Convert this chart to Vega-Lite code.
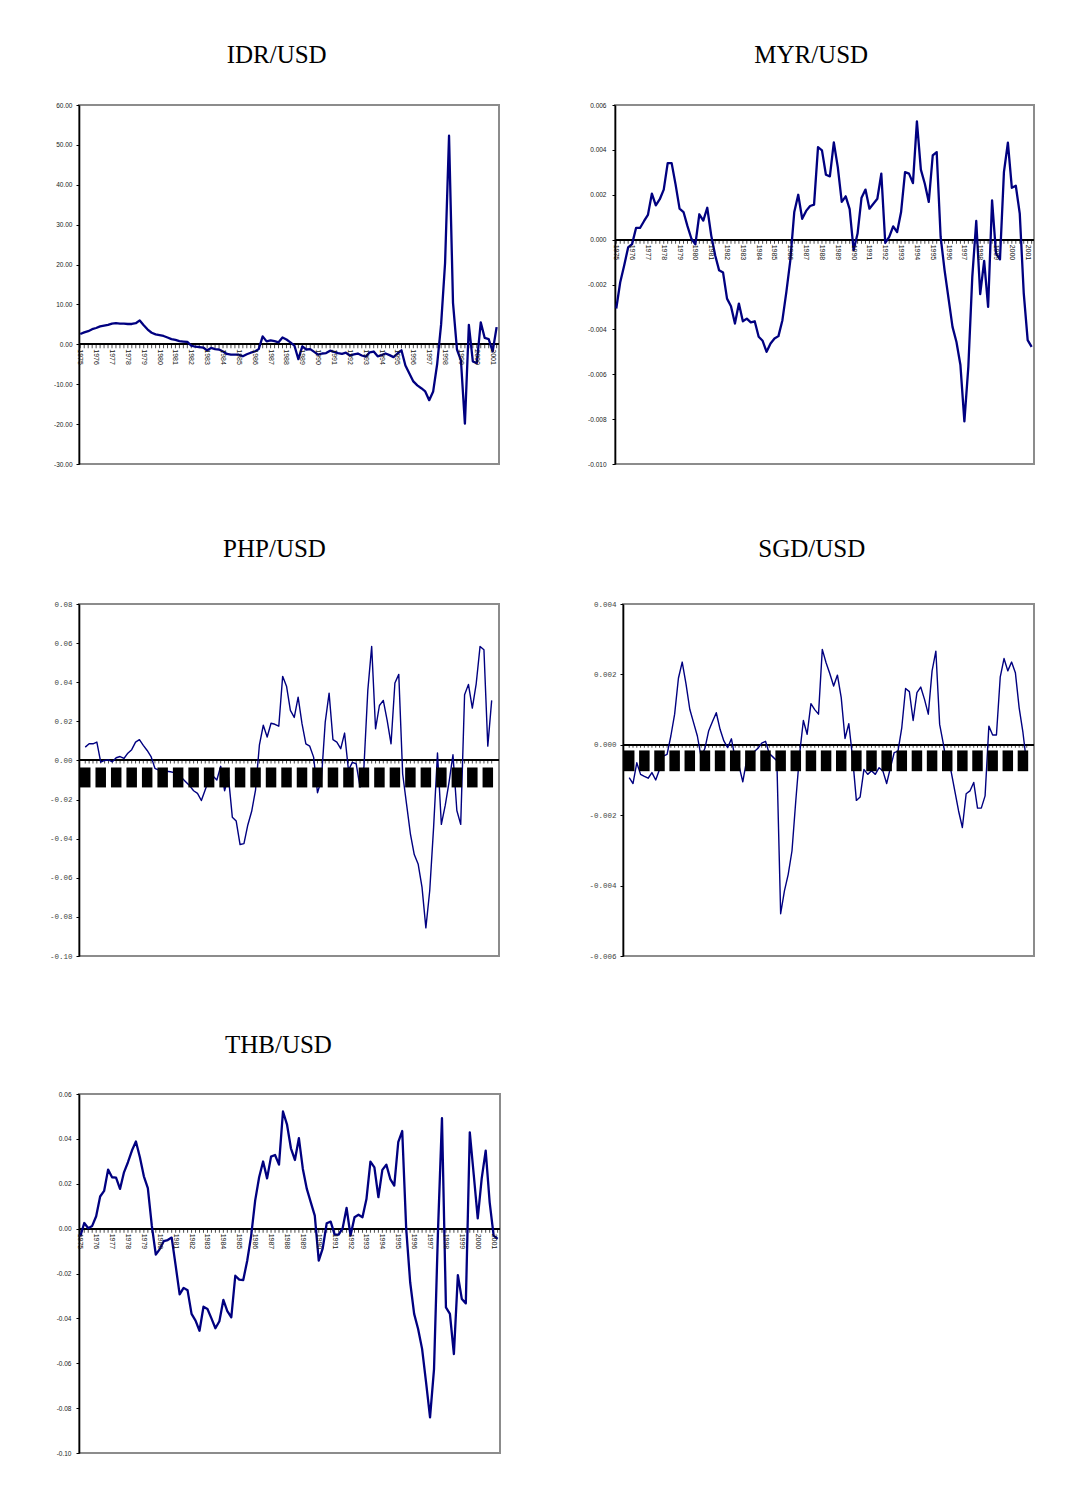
{
"$schema": "https://vega.github.io/schema/vega-lite/v6.json",
"padding": {"left": 48, "top": 42, "right": 0, "bottom": 0},
"background": "white",
"config": {
 "view": {"stroke": "#8c8c8c", "strokeWidth": 2},
 "axis": {"domainColor": "#000", "domainWidth": 1.6, "tickColor": "#000", "tickSize": 3, "tickWidth": 1, "tickCount": 20, "grid": false, "labelFont": "Liberation Sans", "labelFontSize": 6.5, "labelColor": "#222", "labelPadding": 4, "labelOverlap": false, "labelBound": false, "labelFlush": false, "title": null},
 "title": {"font": "Liberation Serif", "fontSize": 25, "fontWeight": "normal", "color": "#000", "offset": 34, "anchor": "middle", "frame": "bounds"},
 "locale": {"number": {"decimal": ".", "thousands": ",", "grouping": [3], "currency": ["$", ""], "minus": "-"}}
},
"datasets": {
 "years": [{"yr":1975},{"yr":1976},{"yr":1977},{"yr":1978},{"yr":1979},{"yr":1980},{"yr":1981},{"yr":1982},{"yr":1983},{"yr":1984},{"yr":1985},{"yr":1986},{"yr":1987},{"yr":1988},{"yr":1989},{"yr":1990},{"yr":1991},{"yr":1992},{"yr":1993},{"yr":1994},{"yr":1995},{"yr":1996},{"yr":1997},{"yr":1998},{"yr":1999},{"yr":2000},{"yr":2001}],
 "idr": [
 {"t":1975,"v":2.6},{"t":1975.25,"v":3.0},{"t":1975.5,"v":3.3},{"t":1975.75,"v":3.8},
 {"t":1976,"v":4.1},{"t":1976.25,"v":4.5},{"t":1976.5,"v":4.7},{"t":1976.75,"v":4.9},
 {"t":1977,"v":5.2},{"t":1977.25,"v":5.3},{"t":1977.5,"v":5.2},{"t":1977.75,"v":5.2},
 {"t":1978,"v":5.1},{"t":1978.25,"v":5.1},{"t":1978.5,"v":5.3},{"t":1978.75,"v":6.0},
 {"t":1979,"v":4.8},{"t":1979.25,"v":3.7},{"t":1979.5,"v":2.9},{"t":1979.75,"v":2.5},
 {"t":1980,"v":2.3},{"t":1980.25,"v":2.1},{"t":1980.5,"v":1.7},{"t":1980.75,"v":1.3},
 {"t":1981,"v":1.1},{"t":1981.25,"v":0.8},{"t":1981.5,"v":0.7},{"t":1981.75,"v":0.6},
 {"t":1982,"v":-0.3},{"t":1982.25,"v":-0.6},{"t":1982.5,"v":-0.7},{"t":1982.75,"v":-0.8},
 {"t":1983,"v":-1.5},{"t":1983.25,"v":-0.9},{"t":1983.5,"v":-1.2},{"t":1983.75,"v":-1.3},
 {"t":1984,"v":-1.8},{"t":1984.25,"v":-2.4},{"t":1984.5,"v":-2.6},{"t":1984.75,"v":-2.6},
 {"t":1985,"v":-2.6},{"t":1985.25,"v":-3.0},{"t":1985.5,"v":-2.5},{"t":1985.75,"v":-2.1},
 {"t":1986,"v":-1.8},{"t":1986.25,"v":-1.2},{"t":1986.5,"v":2.0},{"t":1986.75,"v":0.75},
 {"t":1987,"v":1.0},{"t":1987.25,"v":0.8},{"t":1987.5,"v":0.5},{"t":1987.75,"v":1.7},
 {"t":1988,"v":1.2},{"t":1988.25,"v":0.5},{"t":1988.5,"v":-0.3},{"t":1988.75,"v":-3.7},
 {"t":1989,"v":-0.5},{"t":1989.25,"v":-1.3},{"t":1989.5,"v":-1.2},{"t":1989.75,"v":-1.9},
 {"t":1990,"v":-2.6},{"t":1990.25,"v":-2.3},{"t":1990.5,"v":-2.2},{"t":1990.75,"v":-1.6},
 {"t":1991,"v":-1.9},{"t":1991.25,"v":-2.2},{"t":1991.5,"v":-2.4},{"t":1991.75,"v":-2.1},
 {"t":1992,"v":-2.8},{"t":1992.25,"v":-2.5},{"t":1992.5,"v":-2.3},{"t":1992.75,"v":-2.8},
 {"t":1993,"v":-3.1},{"t":1993.25,"v":-2.0},{"t":1993.5,"v":-1.8},{"t":1993.75,"v":-3.0},
 {"t":1994,"v":-2.7},{"t":1994.25,"v":-2.3},{"t":1994.5,"v":-2.7},{"t":1994.75,"v":-3.2},
 {"t":1995,"v":-2.3},{"t":1995.25,"v":-1.5},{"t":1995.5,"v":-5.3},{"t":1995.75,"v":-7.3},
 {"t":1996,"v":-9.3},{"t":1996.25,"v":-10.3},{"t":1996.5,"v":-11.0},{"t":1996.75,"v":-11.8},
 {"t":1997,"v":-14.0},{"t":1997.25,"v":-11.8},{"t":1997.5,"v":-5.0},{"t":1997.75,"v":5.0},
 {"t":1998,"v":20.4},{"t":1998.25,"v":52.3},{"t":1998.5,"v":10.4},{"t":1998.75,"v":-1.3},
 {"t":1999,"v":-4.0},{"t":1999.25,"v":-19.9},{"t":1999.5,"v":4.9},{"t":1999.75,"v":-4.3},
 {"t":2000,"v":-4.7},{"t":2000.25,"v":5.5},{"t":2000.5,"v":1.6},{"t":2000.75,"v":1.3},
 {"t":2001,"v":-1.8},{"t":2001.25,"v":4.3}],
 "myr": [
 {"t":1975,"v":-0.00307},{"t":1975.25,"v":-0.0019},{"t":1975.5,"v":-0.00115},{"t":1975.75,"v":-0.00035},
 {"t":1976,"v":-0.0002},{"t":1976.25,"v":0.00052},{"t":1976.5,"v":0.00052},{"t":1976.75,"v":0.00082},
 {"t":1977,"v":0.0011},{"t":1977.25,"v":0.00205},{"t":1977.5,"v":0.00153},{"t":1977.75,"v":0.0018},
 {"t":1978,"v":0.00223},{"t":1978.25,"v":0.00341},{"t":1978.5,"v":0.00341},{"t":1978.75,"v":0.00245},
 {"t":1979,"v":0.00138},{"t":1979.25,"v":0.00123},{"t":1979.5,"v":0.0006},{"t":1979.75,"v":0.00004},
 {"t":1980,"v":-0.00021},{"t":1980.25,"v":0.00113},{"t":1980.5,"v":0.00085},{"t":1980.75,"v":0.00142},
 {"t":1981,"v":0.00019},{"t":1981.25,"v":-0.0007},{"t":1981.5,"v":-0.00137},{"t":1981.75,"v":-0.00147},
 {"t":1982,"v":-0.00263},{"t":1982.25,"v":-0.00297},{"t":1982.5,"v":-0.00374},{"t":1982.75,"v":-0.00285},
 {"t":1983,"v":-0.00364},{"t":1983.25,"v":-0.00352},{"t":1983.5,"v":-0.00369},{"t":1983.75,"v":-0.00364},
 {"t":1984,"v":-0.00433},{"t":1984.25,"v":-0.00451},{"t":1984.5,"v":-0.005},{"t":1984.75,"v":-0.00463},
 {"t":1985,"v":-0.00441},{"t":1985.25,"v":-0.0043},{"t":1985.5,"v":-0.00359},{"t":1985.75,"v":-0.00233},
 {"t":1986,"v":-0.00092},{"t":1986.25,"v":0.00123},{"t":1986.5,"v":0.002},{"t":1986.75,"v":0.00093},
 {"t":1987,"v":0.00128},{"t":1987.25,"v":0.0015},{"t":1987.5,"v":0.00156},{"t":1987.75,"v":0.00412},
 {"t":1988,"v":0.00398},{"t":1988.25,"v":0.00289},{"t":1988.5,"v":0.00282},{"t":1988.75,"v":0.00433},
 {"t":1989,"v":0.00323},{"t":1989.25,"v":0.00168},{"t":1989.5,"v":0.00193},{"t":1989.75,"v":0.00136},
 {"t":1990,"v":-0.00047},{"t":1990.25,"v":0.00027},{"t":1990.5,"v":0.00187},{"t":1990.75,"v":0.00223},
 {"t":1991,"v":0.00138},{"t":1991.25,"v":0.0016},{"t":1991.5,"v":0.00182},{"t":1991.75,"v":0.00294},
 {"t":1992,"v":-0.00015},{"t":1992.25,"v":0.00012},{"t":1992.5,"v":0.00059},{"t":1992.75,"v":0.00034},
 {"t":1993,"v":0.00123},{"t":1993.25,"v":0.00301},{"t":1993.5,"v":0.00294},{"t":1993.75,"v":0.00252},
 {"t":1994,"v":0.00527},{"t":1994.25,"v":0.00312},{"t":1994.5,"v":0.00249},{"t":1994.75,"v":0.00168},
 {"t":1995,"v":0.00375},{"t":1995.25,"v":0.0039},{"t":1995.5,"v":0.00012},{"t":1995.75,"v":-0.00137},
 {"t":1996,"v":-0.00263},{"t":1996.25,"v":-0.00389},{"t":1996.5,"v":-0.00456},{"t":1996.75,"v":-0.00559},
 {"t":1997,"v":-0.0081},{"t":1997.25,"v":-0.00567},{"t":1997.5,"v":-0.00166},{"t":1997.75,"v":0.00083},
 {"t":1998,"v":-0.00243},{"t":1998.25,"v":-0.00095},{"t":1998.5,"v":-0.003},{"t":1998.75,"v":0.00175},
 {"t":1999,"v":-0.00062},{"t":1999.25,"v":-0.00088},{"t":1999.5,"v":0.00301},{"t":1999.75,"v":0.00432},
 {"t":2000,"v":0.00231},{"t":2000.25,"v":0.0024},{"t":2000.5,"v":0.00116},{"t":2000.75,"v":-0.00237},
 {"t":2001,"v":-0.00448},{"t":2001.25,"v":-0.00478}],
 "php": [
 {"t":1975,"v":0.0068},{"t":1975.25,"v":0.0085},{"t":1975.5,"v":0.0085},{"t":1975.75,"v":0.0094},
 {"t":1976,"v":-0.0009},{"t":1976.25,"v":0.0},{"t":1976.5,"v":0.0003},{"t":1976.75,"v":-0.0007},
 {"t":1977,"v":0.0014},{"t":1977.25,"v":0.002},{"t":1977.5,"v":0.001},{"t":1977.75,"v":0.0037},
 {"t":1978,"v":0.0055},{"t":1978.25,"v":0.0094},{"t":1978.5,"v":0.0106},{"t":1978.75,"v":0.0077},
 {"t":1979,"v":0.0051},{"t":1979.25,"v":0.002},{"t":1979.5,"v":-0.004},{"t":1979.75,"v":-0.005},
 {"t":1980,"v":-0.0055},{"t":1980.25,"v":-0.0055},{"t":1980.5,"v":-0.0058},{"t":1980.75,"v":-0.0062},
 {"t":1981,"v":-0.0066},{"t":1981.25,"v":-0.009},{"t":1981.5,"v":-0.011},{"t":1981.75,"v":-0.013},
 {"t":1982,"v":-0.0155},{"t":1982.25,"v":-0.0168},{"t":1982.5,"v":-0.0205},{"t":1982.75,"v":-0.015},
 {"t":1983,"v":-0.0095},{"t":1983.25,"v":-0.008},{"t":1983.5,"v":-0.01},{"t":1983.75,"v":-0.003},
 {"t":1984,"v":-0.0155},{"t":1984.25,"v":-0.0085},{"t":1984.5,"v":-0.029},{"t":1984.75,"v":-0.031},
 {"t":1985,"v":-0.043},{"t":1985.25,"v":-0.0425},{"t":1985.5,"v":-0.033},{"t":1985.75,"v":-0.026},
 {"t":1986,"v":-0.015},{"t":1986.25,"v":0.008},{"t":1986.5,"v":0.018},{"t":1986.75,"v":0.012},
 {"t":1987,"v":0.019},{"t":1987.25,"v":0.0185},{"t":1987.5,"v":0.0175},{"t":1987.75,"v":0.043},
 {"t":1988,"v":0.038},{"t":1988.25,"v":0.0256},{"t":1988.5,"v":0.022},{"t":1988.75,"v":0.0324},
 {"t":1989,"v":0.0188},{"t":1989.25,"v":0.0085},{"t":1989.5,"v":0.0073},{"t":1989.75,"v":0.0017},
 {"t":1990,"v":-0.0165},{"t":1990.25,"v":-0.01},{"t":1990.5,"v":0.0196},{"t":1990.75,"v":0.0344},
 {"t":1991,"v":0.0106},{"t":1991.25,"v":0.0094},{"t":1991.5,"v":0.006},{"t":1991.75,"v":0.014},
 {"t":1992,"v":-0.005},{"t":1992.25,"v":-0.001},{"t":1992.5,"v":-0.0017},{"t":1992.75,"v":-0.0136},
 {"t":1993,"v":-0.0034},{"t":1993.25,"v":0.0358},{"t":1993.5,"v":0.0583},{"t":1993.75,"v":0.0162},
 {"t":1994,"v":0.0281},{"t":1994.25,"v":0.0307},{"t":1994.5,"v":0.0205},{"t":1994.75,"v":0.0085},
 {"t":1995,"v":0.0396},{"t":1995.25,"v":0.044},{"t":1995.5,"v":-0.0068},{"t":1995.75,"v":-0.0222},
 {"t":1996,"v":-0.0375},{"t":1996.25,"v":-0.0481},{"t":1996.5,"v":-0.0529},{"t":1996.75,"v":-0.0648},
 {"t":1997,"v":-0.0856},{"t":1997.25,"v":-0.0665},{"t":1997.5,"v":-0.0341},{"t":1997.75,"v":0.0038},
 {"t":1998,"v":-0.0327},{"t":1998.25,"v":-0.023},{"t":1998.5,"v":-0.011},{"t":1998.75,"v":0.0029},
 {"t":1999,"v":-0.0256},{"t":1999.25,"v":-0.0327},{"t":1999.5,"v":0.0336},{"t":1999.75,"v":0.0389},
 {"t":2000,"v":0.0268},{"t":2000.25,"v":0.0392},{"t":2000.5,"v":0.0583},{"t":2000.75,"v":0.0566},
 {"t":2001,"v":0.0073},{"t":2001.25,"v":0.0307}],
 "sgd": [
 {"t":1975,"v":-0.00093},{"t":1975.25,"v":-0.0011},{"t":1975.5,"v":-0.00051},{"t":1975.75,"v":-0.00084},
 {"t":1976,"v":-0.0009},{"t":1976.25,"v":-0.00095},{"t":1976.5,"v":-0.00079},{"t":1976.75,"v":-0.001},
 {"t":1977,"v":-0.0007},{"t":1977.25,"v":-0.00032},{"t":1977.5,"v":-0.00027},{"t":1977.75,"v":0.00025},
 {"t":1978,"v":0.00087},{"t":1978.25,"v":0.00189},{"t":1978.5,"v":0.00235},{"t":1978.75,"v":0.00173},
 {"t":1979,"v":0.00101},{"t":1979.25,"v":0.00063},{"t":1979.5,"v":0.00025},{"t":1979.75,"v":-0.00035},
 {"t":1980,"v":-0.0001},{"t":1980.25,"v":0.0004},{"t":1980.5,"v":0.00066},{"t":1980.75,"v":0.00091},
 {"t":1981,"v":0.00044},{"t":1981.25,"v":0.00011},{"t":1981.5,"v":-0.00008},{"t":1981.75,"v":0.00017},
 {"t":1982,"v":-0.0004},{"t":1982.25,"v":-0.0006},{"t":1982.5,"v":-0.00105},{"t":1982.75,"v":-0.00045},
 {"t":1983,"v":-0.00042},{"t":1983.25,"v":-0.0002},{"t":1983.5,"v":-0.0001},{"t":1983.75,"v":0.00005},
 {"t":1984,"v":0.0001},{"t":1984.25,"v":-0.00025},{"t":1984.5,"v":-0.00035},{"t":1984.75,"v":-0.00045},
 {"t":1985,"v":-0.0048},{"t":1985.25,"v":-0.00415},{"t":1985.5,"v":-0.00368},{"t":1985.75,"v":-0.00301},
 {"t":1986,"v":-0.00159},{"t":1986.25,"v":-0.00027},{"t":1986.5,"v":0.00069},{"t":1986.75,"v":0.0003},
 {"t":1987,"v":0.00117},{"t":1987.25,"v":0.001},{"t":1987.5,"v":0.00087},{"t":1987.75,"v":0.00271},
 {"t":1988,"v":0.00233},{"t":1988.25,"v":0.00202},{"t":1988.5,"v":0.00167},{"t":1988.75,"v":0.00198},
 {"t":1989,"v":0.00134},{"t":1989.25,"v":0.00018},{"t":1989.5,"v":0.0006},{"t":1989.75,"v":-0.00036},
 {"t":1990,"v":-0.00158},{"t":1990.25,"v":-0.00148},{"t":1990.5,"v":-0.0007},{"t":1990.75,"v":-0.00084},
 {"t":1991,"v":-0.00074},{"t":1991.25,"v":-0.00084},{"t":1991.5,"v":-0.00065},{"t":1991.75,"v":-0.00074},
 {"t":1992,"v":-0.0011},{"t":1992.25,"v":-0.00065},{"t":1992.5,"v":-0.00022},{"t":1992.75,"v":-0.00018},
 {"t":1993,"v":0.00049},{"t":1993.25,"v":0.0016},{"t":1993.5,"v":0.00151},{"t":1993.75,"v":0.00069},
 {"t":1994,"v":0.00148},{"t":1994.25,"v":0.00164},{"t":1994.5,"v":0.00129},{"t":1994.75,"v":0.00087},
 {"t":1995,"v":0.0021},{"t":1995.25,"v":0.00266},{"t":1995.5,"v":0.00058},{"t":1995.75,"v":0.00001},
 {"t":1996,"v":-0.00065},{"t":1996.25,"v":-0.00074},{"t":1996.5,"v":-0.00131},{"t":1996.75,"v":-0.00188},
 {"t":1997,"v":-0.00235},{"t":1997.25,"v":-0.00139},{"t":1997.5,"v":-0.00131},{"t":1997.75,"v":-0.00107},
 {"t":1998,"v":-0.0018},{"t":1998.25,"v":-0.0018},{"t":1998.5,"v":-0.00145},{"t":1998.75,"v":0.00053},
 {"t":1999,"v":0.00028},{"t":1999.25,"v":0.00028},{"t":1999.5,"v":0.00192},{"t":1999.75,"v":0.00245},
 {"t":2000,"v":0.0021},{"t":2000.25,"v":0.00235},{"t":2000.5,"v":0.00205},{"t":2000.75,"v":0.00105},
 {"t":2001,"v":0.00035},{"t":2001.25,"v":-0.00055}],
 "thb": [
 {"t":1975,"v":-0.0035},{"t":1975.25,"v":0.0025},{"t":1975.5,"v":0.0002},{"t":1975.75,"v":0.0012},
 {"t":1976,"v":0.0055},{"t":1976.25,"v":0.0143},{"t":1976.5,"v":0.0168},{"t":1976.75,"v":0.0263},
 {"t":1977,"v":0.0229},{"t":1977.25,"v":0.0227},{"t":1977.5,"v":0.0177},{"t":1977.75,"v":0.0251},
 {"t":1978,"v":0.0296},{"t":1978.25,"v":0.0348},{"t":1978.5,"v":0.0388},{"t":1978.75,"v":0.0318},
 {"t":1979,"v":0.0233},{"t":1979.25,"v":0.018},{"t":1979.5,"v":0.0013},{"t":1979.75,"v":-0.0116},
 {"t":1980,"v":-0.0091},{"t":1980.25,"v":-0.0056},{"t":1980.5,"v":-0.0051},{"t":1980.75,"v":-0.004},
 {"t":1981,"v":-0.0165},{"t":1981.25,"v":-0.0293},{"t":1981.5,"v":-0.0264},{"t":1981.75,"v":-0.0275},
 {"t":1982,"v":-0.038},{"t":1982.25,"v":-0.041},{"t":1982.5,"v":-0.0455},{"t":1982.75,"v":-0.0348},
 {"t":1983,"v":-0.0358},{"t":1983.25,"v":-0.04},{"t":1983.5,"v":-0.0444},{"t":1983.75,"v":-0.0413},
 {"t":1984,"v":-0.0318},{"t":1984.25,"v":-0.0368},{"t":1984.5,"v":-0.0395},{"t":1984.75,"v":-0.021},
 {"t":1985,"v":-0.0227},{"t":1985.25,"v":-0.0229},{"t":1985.5,"v":-0.0143},{"t":1985.75,"v":-0.0031},
 {"t":1986,"v":0.0125},{"t":1986.25,"v":0.0229},{"t":1986.5,"v":0.0299},{"t":1986.75,"v":0.0224},
 {"t":1987,"v":0.0321},{"t":1987.25,"v":0.0328},{"t":1987.5,"v":0.0285},{"t":1987.75,"v":0.0522},
 {"t":1988,"v":0.0465},{"t":1988.25,"v":0.0358},{"t":1988.5,"v":0.0306},{"t":1988.75,"v":0.0403},
 {"t":1989,"v":0.0266},{"t":1989.25,"v":0.0177},{"t":1989.5,"v":0.0117},{"t":1989.75,"v":0.0058},
 {"t":1990,"v":-0.0143},{"t":1990.25,"v":-0.0088},{"t":1990.5,"v":0.0024},{"t":1990.75,"v":0.0031},
 {"t":1991,"v":-0.0027},{"t":1991.25,"v":-0.0027},{"t":1991.5,"v":0.0001},{"t":1991.75,"v":0.0092},
 {"t":1992,"v":-0.0031},{"t":1992.25,"v":0.0051},{"t":1992.5,"v":0.0062},{"t":1992.75,"v":0.0051},
 {"t":1993,"v":0.0132},{"t":1993.25,"v":0.0299},{"t":1993.5,"v":0.0273},{"t":1993.75,"v":0.014},
 {"t":1994,"v":0.0262},{"t":1994.25,"v":0.0285},{"t":1994.5,"v":0.0221},{"t":1994.75,"v":0.0192},
 {"t":1995,"v":0.0385},{"t":1995.25,"v":0.0435},{"t":1995.5,"v":0.0},{"t":1995.75,"v":-0.0239},
 {"t":1996,"v":-0.038},{"t":1996.25,"v":-0.0447},{"t":1996.5,"v":-0.0536},{"t":1996.75,"v":-0.0685},
 {"t":1997,"v":-0.0841},{"t":1997.25,"v":-0.0626},{"t":1997.5,"v":-0.001},{"t":1997.75,"v":0.0492},
 {"t":1998,"v":-0.0351},{"t":1998.25,"v":-0.038},{"t":1998.5,"v":-0.0559},{"t":1998.75,"v":-0.0207},
 {"t":1999,"v":-0.0314},{"t":1999.25,"v":-0.0333},{"t":1999.5,"v":0.0429},{"t":1999.75,"v":0.0239},
 {"t":2000,"v":0.0046},{"t":2000.25,"v":0.0224},{"t":2000.5,"v":0.0348},{"t":2000.75,"v":0.0117},
 {"t":2001,"v":-0.0031},{"t":2001.25,"v":-0.0046}]
},
"columns": 1,
"spacing": 71,
"concat": [
 {"columns": 1, "spacing": 67, "concat": [
 {"spacing": 85, "hconcat": [
  {"title": {"text": "IDR/USD", "offset": 34, "frame": "bounds"}, "width": 420, "height": 359, "layer": [
   {"data": {"name": "idr"}, "mark": {"type": "rule", "color": "#000", "strokeWidth": 1.4}, "encoding": {"y": {"datum": 0}}},
   {"data": {"name": "idr"}, "mark": {"type": "tick", "orient": "vertical", "size": 4, "thickness": 1, "color": "#000", "yOffset": 2}, "encoding": {"x": {"field": "t", "type": "quantitative", "scale": {"domain": [1974.92, 2001.4], "nice": false, "zero": false}, "axis": null}, "y": {"datum": 0}}},
   {"data": {"name": "idr"}, "mark": {"type": "line", "color": "#000080", "strokeWidth": 2.3, "strokeJoin": "round"}, "encoding": {"x": {"field": "t", "type": "quantitative", "scale": {"domain": [1974.92, 2001.4], "nice": false, "zero": false}, "axis": null}, "y": {"field": "v", "type": "quantitative", "scale": {"domain": [-30, 60], "nice": false, "zero": false}, "axis": {"values": [-30, -20, -10, 0, 10, 20, 30, 40, 50, 60], "tickCount": 20, "format": ".2f", "labelOverlap": false}}}},
   {"data": {"name": "years"}, "mark": {"type": "text", "angle": 90, "align": "left", "baseline": "middle", "font": "Liberation Sans", "fontSize": 7, "color": "#111", "yOffset": 5}, "encoding": {"x": {"field": "yr", "type": "quantitative", "scale": {"domain": [1974.92, 2001.4], "nice": false, "zero": false}, "axis": null}, "y": {"datum": 0}, "text": {"field": "yr", "type": "quantitative", "format": "d"}}}
  ]},
  {"title": {"text": "MYR/USD", "offset": 34, "frame": "bounds"}, "width": 419, "height": 359, "layer": [
   {"data": {"name": "myr"}, "mark": {"type": "rule", "color": "#000", "strokeWidth": 1.4}, "encoding": {"y": {"datum": 0}}},
   {"data": {"name": "myr"}, "mark": {"type": "tick", "orient": "vertical", "size": 4, "thickness": 1, "color": "#000", "yOffset": 2}, "encoding": {"x": {"field": "t", "type": "quantitative", "scale": {"domain": [1974.92, 2001.4], "nice": false, "zero": false}, "axis": null}, "y": {"datum": 0}}},
   {"data": {"name": "myr"}, "mark": {"type": "line", "color": "#000080", "strokeWidth": 2.3, "strokeJoin": "round"}, "encoding": {"x": {"field": "t", "type": "quantitative", "scale": {"domain": [1974.92, 2001.4], "nice": false, "zero": false}, "axis": null}, "y": {"field": "v", "type": "quantitative", "scale": {"domain": [-0.01, 0.006], "nice": false, "zero": false}, "axis": {"values": [-0.01, -0.008, -0.006, -0.004, -0.002, 0, 0.002, 0.004, 0.006], "tickCount": 20, "format": ".3f", "labelPadding": 6, "labelOverlap": false}}}},
   {"data": {"name": "years"}, "mark": {"type": "text", "angle": 90, "align": "left", "baseline": "middle", "font": "Liberation Sans", "fontSize": 7, "color": "#111", "yOffset": 5}, "encoding": {"x": {"field": "yr", "type": "quantitative", "scale": {"domain": [1974.92, 2001.4], "nice": false, "zero": false}, "axis": null}, "y": {"datum": 0}, "text": {"field": "yr", "type": "quantitative", "format": "d"}}}
  ]}
 ]},
 {"spacing": 86, "hconcat": [
  {"title": {"text": "PHP/USD", "offset": 38, "frame": "bounds"}, "width": 420, "height": 352, "layer": [
   {"data": {"name": "php"}, "mark": {"type": "rule", "color": "#000", "strokeWidth": 1}, "encoding": {"y": {"datum": 0}}},
   {"data": {"name": "php"}, "mark": {"type": "tick", "orient": "vertical", "size": 3, "thickness": 1, "color": "#000", "yOffset": 1.5}, "encoding": {"x": {"field": "t", "type": "quantitative", "scale": {"domain": [1974.92, 2001.4], "nice": false, "zero": false}, "axis": null}, "y": {"datum": 0}}},
   {"data": {"name": "php"}, "mark": {"type": "line", "color": "#000080", "strokeWidth": 1.4, "strokeJoin": "round"}, "encoding": {"x": {"field": "t", "type": "quantitative", "scale": {"domain": [1974.92, 2001.4], "nice": false, "zero": false}, "axis": null}, "y": {"field": "v", "type": "quantitative", "scale": {"domain": [-0.1, 0.08], "nice": false, "zero": false}, "axis": {"values": [-0.1, -0.08, -0.06, -0.04, -0.02, 0, 0.02, 0.04, 0.06, 0.08], "tickCount": 20, "format": ".2f", "labelFont": "Liberation Mono", "labelFontSize": 7.5, "labelColor": "#444", "labelOverlap": false}}}},
   {"data": {"name": "years"}, "mark": {"type": "bar", "color": "#000", "width": 10.5}, "encoding": {"x": {"field": "yr", "type": "quantitative", "scale": {"domain": [1974.92, 2001.4], "nice": false, "zero": false}, "axis": null}, "y": {"datum": -0.0036}, "y2": {"datum": -0.0138}}}
  ]},
  {"title": {"text": "SGD/USD", "offset": 38, "frame": "bounds"}, "width": 411, "height": 352, "layer": [
   {"data": {"name": "sgd"}, "mark": {"type": "rule", "color": "#000", "strokeWidth": 1}, "encoding": {"y": {"datum": 0}}},
   {"data": {"name": "sgd"}, "mark": {"type": "tick", "orient": "vertical", "size": 3, "thickness": 1, "color": "#000", "yOffset": 1.5}, "encoding": {"x": {"field": "t", "type": "quantitative", "scale": {"domain": [1974.92, 2001.4], "nice": false, "zero": false}, "axis": null}, "y": {"datum": 0}}},
   {"data": {"name": "sgd"}, "mark": {"type": "line", "color": "#000080", "strokeWidth": 1.4, "strokeJoin": "round"}, "encoding": {"x": {"field": "t", "type": "quantitative", "scale": {"domain": [1974.92, 2001.4], "nice": false, "zero": false}, "axis": null}, "y": {"field": "v", "type": "quantitative", "scale": {"domain": [-0.006, 0.004], "nice": false, "zero": false}, "axis": {"values": [-0.006, -0.004, -0.002, 0, 0.002, 0.004], "tickCount": 20, "format": ".3f", "labelFont": "Liberation Mono", "labelFontSize": 7.5, "labelColor": "#444", "labelOverlap": false}}}},
   {"data": {"name": "years"}, "mark": {"type": "bar", "color": "#000", "width": 10.5}, "encoding": {"x": {"field": "yr", "type": "quantitative", "scale": {"domain": [1974.92, 2001.4], "nice": false, "zero": false}, "axis": null}, "y": {"datum": -0.00016}, "y2": {"datum": -0.00075}}}
  ]}
 ]}
 ]},
 {"hconcat": [
  {"title": {"text": "THB/USD", "offset": 33, "frame": "bounds"}, "width": 421, "height": 359, "layer": [
   {"data": {"name": "thb"}, "mark": {"type": "rule", "color": "#000", "strokeWidth": 1.4}, "encoding": {"y": {"datum": 0}}},
   {"data": {"name": "thb"}, "mark": {"type": "tick", "orient": "vertical", "size": 4, "thickness": 1, "color": "#000", "yOffset": 2}, "encoding": {"x": {"field": "t", "type": "quantitative", "scale": {"domain": [1974.92, 2001.4], "nice": false, "zero": false}, "axis": null}, "y": {"datum": 0}}},
   {"data": {"name": "thb"}, "mark": {"type": "line", "color": "#000080", "strokeWidth": 2.3, "strokeJoin": "round"}, "encoding": {"x": {"field": "t", "type": "quantitative", "scale": {"domain": [1974.92, 2001.4], "nice": false, "zero": false}, "axis": null}, "y": {"field": "v", "type": "quantitative", "scale": {"domain": [-0.1, 0.06], "nice": false, "zero": false}, "axis": {"values": [-0.1, -0.08, -0.06, -0.04, -0.02, 0, 0.02, 0.04, 0.06], "tickCount": 20, "format": ".2f", "labelPadding": 5, "labelOverlap": false}}}},
   {"data": {"name": "years"}, "mark": {"type": "text", "angle": 90, "align": "left", "baseline": "middle", "font": "Liberation Sans", "fontSize": 7, "color": "#111", "yOffset": 5}, "encoding": {"x": {"field": "yr", "type": "quantitative", "scale": {"domain": [1974.92, 2001.4], "nice": false, "zero": false}, "axis": null}, "y": {"datum": 0}, "text": {"field": "yr", "type": "quantitative", "format": "d"}}}
  ]}
 ]}
]
}
